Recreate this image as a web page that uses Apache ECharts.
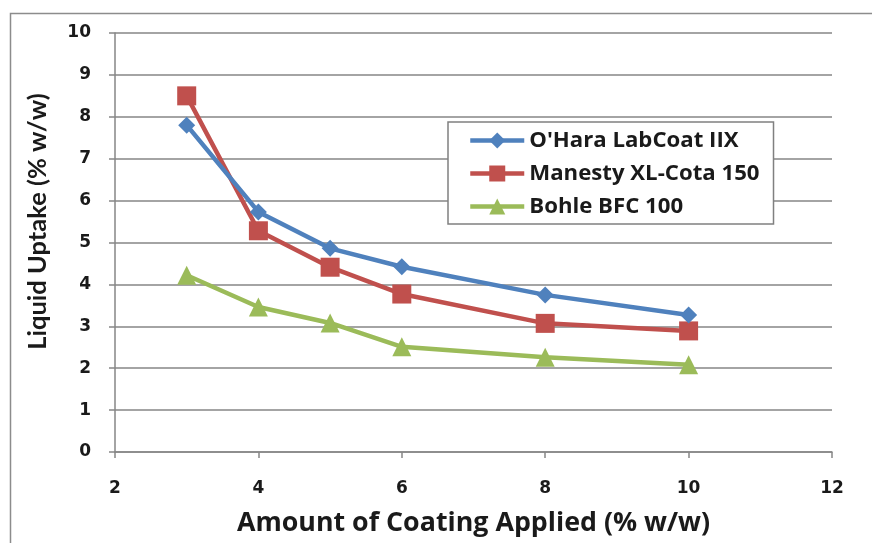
<!DOCTYPE html>
<html>
<head>
<meta charset="utf-8">
<script src="https://cdn.jsdelivr.net/npm/echarts@6/dist/echarts.min.js"></script>
<style>
html,body{margin:0;padding:0;background:#fff;}
#main{width:872px;height:543px;}
</style>
</head>
<body>
<div id="main"></div>
<script>
var xValues = [3, 4, 5, 6, 8, 10];
var seriesNames = ["O'Hara LabCoat IIX", "Manesty XL-Cota 150", "Bohle BFC 100"];
var ohara = [7.8, 5.73, 4.86, 4.42, 3.75, 3.27];
var manesty = [8.5, 5.28, 4.41, 3.77, 3.07, 2.89];
var bohle = [4.22, 3.46, 3.08, 2.51, 2.26, 2.08];
var xTicks = [2, 4, 6, 8, 10, 12];
var yTicks = [0, 1, 2, 3, 4, 5, 6, 7, 8, 9, 10];

var colors = ['#4F81BD', '#C0504D', '#9BBB59'];
var symbols = ['diamond', 'rect', 'triangle'];
var sizes = [17, 19, 19];
var allData = [ohara, manesty, bohle];
var tickFont = '"DejaVu Sans", sans-serif';
var titleFont = '"Open Sans", sans-serif';
var yTitleFont = 'Lato, sans-serif';
var textColor = '#1a1a1a';
var axisGray = '#868686';

function pairs(vals) {
  return xValues.map(function (x, i) { return [x, vals[i]]; });
}

var chart = echarts.init(document.getElementById('main'));
chart.setOption({
  backgroundColor: '#fff',
  animation: false,
  graphic: [{
    type: 'rect',
    shape: { x: 10.5, y: 13.5, width: 900, height: 600 },
    style: { fill: 'none', stroke: '#8c8c8c', lineWidth: 1.5 },
    silent: true
  }],
  grid: { left: 115, right: 40, top: 33, bottom: 91, containLabel: false },
  legend: {
    orient: 'vertical',
    left: 448, top: 122,
    padding: [5, 14, 4, 20],
    itemGap: 6,
    itemWidth: 54, itemHeight: 20,
    borderColor: '#808080', borderWidth: 1.5,
    backgroundColor: '#fff',
    lineStyle: { width: 4.5 },
    textStyle: { fontFamily: titleFont, fontWeight: 'bold', fontSize: 22.2, lineHeight: 27, color: textColor, padding: [0, 0, 0, 0] },
    data: seriesNames
  },
  xAxis: {
    type: 'value',
    min: 2, max: 12, interval: 2,
    axisLine: { show: true, lineStyle: { color: axisGray, width: 1.5 } },
    axisTick: { show: true, length: 6, lineStyle: { color: axisGray, width: 1.5 } },
    splitLine: { show: false },
    axisLabel: { fontFamily: tickFont, fontWeight: 'bold', fontSize: 17, color: textColor, margin: 28 },
    name: 'Amount of Coating Applied (% w/w)',
    nameLocation: 'middle', nameGap: 58,
    nameTextStyle: { fontFamily: titleFont, fontWeight: 'bold', fontSize: 26.8, color: textColor }
  },
  yAxis: {
    type: 'value',
    min: 0, max: 10, interval: 1,
    axisLine: { show: true, lineStyle: { color: axisGray, width: 1.5 } },
    axisTick: { show: true, length: 6, inside: false, lineStyle: { color: axisGray, width: 1.5 } },
    splitLine: { show: true, lineStyle: { color: axisGray, width: 1.5 } },
    axisLabel: { fontFamily: tickFont, fontWeight: 'bold', fontSize: 17, color: textColor, margin: 24 },
    name: 'Liquid Uptake (% w/w)',
    nameLocation: 'middle', nameGap: 64,
    nameTextStyle: { fontFamily: yTitleFont, fontWeight: 'bold', fontSize: 25.5, color: textColor, padding: [0, 0, 0, 42] }
  },
  series: seriesNames.map(function (name, i) {
    return {
      name: name,
      type: 'line',
      data: pairs(allData[i]),
      symbol: symbols[i],
      symbolSize: sizes[i],
      showAllSymbol: true,
      lineStyle: { color: colors[i], width: 4.5 },
      itemStyle: { color: colors[i] },
      z: 10 - i
    };
  })
});
</script>
</body>
</html>
